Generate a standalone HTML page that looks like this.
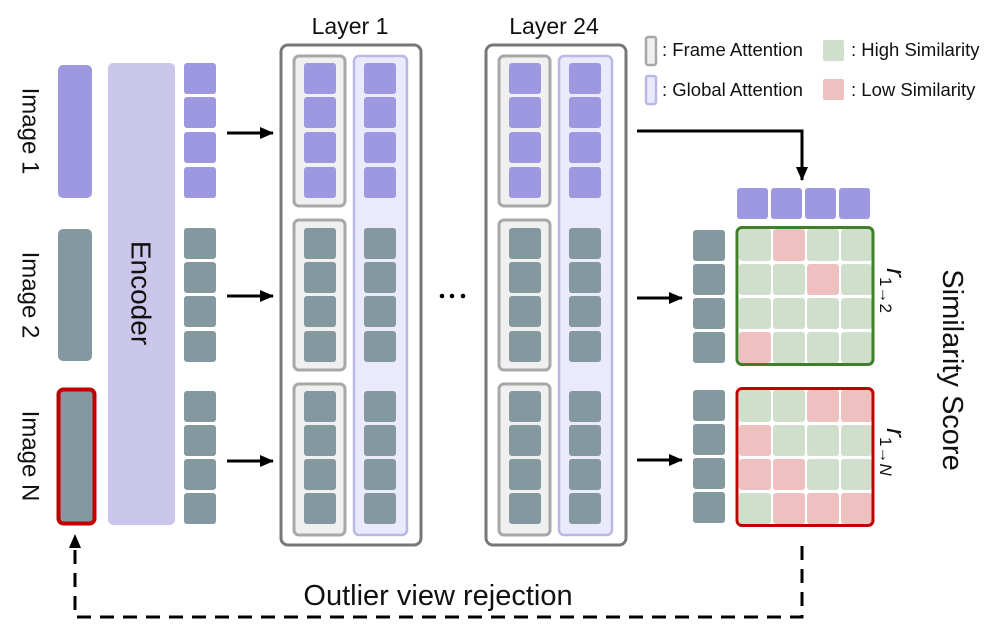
<!DOCTYPE html>
<html><head><meta charset="utf-8"><style>
html,body{margin:0;padding:0;background:#fff;}
svg{display:block;}
text{font-family:"Liberation Sans",sans-serif;fill:#111;}
</style></head><body>
<svg width="997" height="634" viewBox="0 0 997 634" xmlns="http://www.w3.org/2000/svg">
<defs>
<marker id="ah2" markerWidth="14" markerHeight="12" refX="13" refY="6" orient="auto" markerUnits="userSpaceOnUse"><path d="M0,0 L14,6 L0,12 Z" fill="#000"/></marker>
</defs>

<rect x="58" y="65" width="34" height="133" rx="5" fill="#9d98df"/>
<rect x="58" y="229" width="34" height="132" rx="5" fill="#84999f"/>
<rect x="58.5" y="389.5" width="36" height="134" rx="5" fill="#84999f" stroke="#c00000" stroke-width="4"/>
<text transform="translate(30,131) rotate(90)" text-anchor="middle" dominant-baseline="central" font-size="24">Image 1</text>
<text transform="translate(30,295) rotate(90)" text-anchor="middle" dominant-baseline="central" font-size="24">Image 2</text>
<text transform="translate(30,456) rotate(90)" text-anchor="middle" dominant-baseline="central" font-size="24">Image N</text>

<rect x="108" y="63" width="67" height="462" rx="5" fill="#cbc7ea"/>
<text transform="translate(141,293) rotate(90)" text-anchor="middle" dominant-baseline="central" font-size="28">Encoder</text>

<g fill="#9d98df">
<rect x="184" y="63" width="32" height="31" rx="3"/><rect x="184" y="97" width="32" height="31" rx="3"/><rect x="184" y="132" width="32" height="31" rx="3"/><rect x="184" y="167" width="32" height="31" rx="3"/>
</g>
<g fill="#84999f">
<rect x="184" y="228" width="32" height="31" rx="3"/><rect x="184" y="262" width="32" height="31" rx="3"/><rect x="184" y="296" width="32" height="31" rx="3"/><rect x="184" y="331" width="32" height="31" rx="3"/>
<rect x="184" y="391" width="32" height="31" rx="3"/><rect x="184" y="425" width="32" height="31" rx="3"/><rect x="184" y="459" width="32" height="31" rx="3"/><rect x="184" y="493" width="32" height="31" rx="3"/>
</g>

<g stroke="#000" stroke-width="3">
<line x1="227" y1="133" x2="273" y2="133" marker-end="url(#ah2)"/>
<line x1="227" y1="296" x2="273" y2="296" marker-end="url(#ah2)"/>
<line x1="227" y1="461" x2="273" y2="461" marker-end="url(#ah2)"/>
</g>

<text x="350" y="34" text-anchor="middle" font-size="23">Layer 1</text>
<text x="554" y="34" text-anchor="middle" font-size="23">Layer 24</text>

<g>
<rect x="281" y="45" width="140" height="500" rx="7" fill="#fff" stroke="#777" stroke-width="3"/>
<rect x="354" y="56" width="53" height="479" rx="5" fill="#ebeafc" stroke="#bab7e6" stroke-width="2.5"/>
<rect x="294" y="56" width="51" height="150" rx="5" fill="#f0f0f0" stroke="#a8a8a8" stroke-width="3"/>
<rect x="294" y="220" width="51" height="150" rx="5" fill="#f0f0f0" stroke="#a8a8a8" stroke-width="3"/>
<rect x="294" y="384" width="51" height="151" rx="5" fill="#f0f0f0" stroke="#a8a8a8" stroke-width="3"/>
<g fill="#9d98df">
<rect x="304" y="63" width="32" height="31" rx="3"/><rect x="304" y="97" width="32" height="31" rx="3"/><rect x="304" y="132" width="32" height="31" rx="3"/><rect x="304" y="167" width="32" height="31" rx="3"/>
<rect x="364" y="63" width="32" height="31" rx="3"/><rect x="364" y="97" width="32" height="31" rx="3"/><rect x="364" y="132" width="32" height="31" rx="3"/><rect x="364" y="167" width="32" height="31" rx="3"/>
</g>
<g fill="#84999f">
<rect x="304" y="228" width="32" height="31" rx="3"/><rect x="304" y="262" width="32" height="31" rx="3"/><rect x="304" y="296" width="32" height="31" rx="3"/><rect x="304" y="331" width="32" height="31" rx="3"/>
<rect x="304" y="391" width="32" height="31" rx="3"/><rect x="304" y="425" width="32" height="31" rx="3"/><rect x="304" y="459" width="32" height="31" rx="3"/><rect x="304" y="493" width="32" height="31" rx="3"/>
<rect x="364" y="228" width="32" height="31" rx="3"/><rect x="364" y="262" width="32" height="31" rx="3"/><rect x="364" y="296" width="32" height="31" rx="3"/><rect x="364" y="331" width="32" height="31" rx="3"/>
<rect x="364" y="391" width="32" height="31" rx="3"/><rect x="364" y="425" width="32" height="31" rx="3"/><rect x="364" y="459" width="32" height="31" rx="3"/><rect x="364" y="493" width="32" height="31" rx="3"/>
</g>
</g>

<circle cx="442" cy="296" r="2.3" fill="#000"/><circle cx="452" cy="296" r="2.3" fill="#000"/><circle cx="463" cy="296" r="2.3" fill="#000"/>

<g transform="translate(205,0)">
<rect x="281" y="45" width="140" height="500" rx="7" fill="#fff" stroke="#777" stroke-width="3"/>
<rect x="354" y="56" width="53" height="479" rx="5" fill="#ebeafc" stroke="#bab7e6" stroke-width="2.5"/>
<rect x="294" y="56" width="51" height="150" rx="5" fill="#f0f0f0" stroke="#a8a8a8" stroke-width="3"/>
<rect x="294" y="220" width="51" height="150" rx="5" fill="#f0f0f0" stroke="#a8a8a8" stroke-width="3"/>
<rect x="294" y="384" width="51" height="151" rx="5" fill="#f0f0f0" stroke="#a8a8a8" stroke-width="3"/>
<g fill="#9d98df">
<rect x="304" y="63" width="32" height="31" rx="3"/><rect x="304" y="97" width="32" height="31" rx="3"/><rect x="304" y="132" width="32" height="31" rx="3"/><rect x="304" y="167" width="32" height="31" rx="3"/>
<rect x="364" y="63" width="32" height="31" rx="3"/><rect x="364" y="97" width="32" height="31" rx="3"/><rect x="364" y="132" width="32" height="31" rx="3"/><rect x="364" y="167" width="32" height="31" rx="3"/>
</g>
<g fill="#84999f">
<rect x="304" y="228" width="32" height="31" rx="3"/><rect x="304" y="262" width="32" height="31" rx="3"/><rect x="304" y="296" width="32" height="31" rx="3"/><rect x="304" y="331" width="32" height="31" rx="3"/>
<rect x="304" y="391" width="32" height="31" rx="3"/><rect x="304" y="425" width="32" height="31" rx="3"/><rect x="304" y="459" width="32" height="31" rx="3"/><rect x="304" y="493" width="32" height="31" rx="3"/>
<rect x="364" y="228" width="32" height="31" rx="3"/><rect x="364" y="262" width="32" height="31" rx="3"/><rect x="364" y="296" width="32" height="31" rx="3"/><rect x="364" y="331" width="32" height="31" rx="3"/>
<rect x="364" y="391" width="32" height="31" rx="3"/><rect x="364" y="425" width="32" height="31" rx="3"/><rect x="364" y="459" width="32" height="31" rx="3"/><rect x="364" y="493" width="32" height="31" rx="3"/>
</g>
</g>

<rect x="646" y="37" width="10" height="28" rx="2" fill="#f0f0f0" stroke="#a8a8a8" stroke-width="2.5"/>
<text x="662" y="56" font-size="18.5">: Frame Attention</text>
<rect x="646" y="76" width="10" height="28" rx="2" fill="#ebeafc" stroke="#bab7e6" stroke-width="2.5"/>
<text x="662" y="96" font-size="18.5">: Global Attention</text>
<rect x="823" y="40" width="21" height="21" rx="2" fill="#d0dfcb"/>
<text x="851" y="56" font-size="18.5">: High Similarity</text>
<rect x="823" y="79" width="21" height="21" rx="2" fill="#efc0c0"/>
<text x="851" y="96" font-size="18.5">: Low Similarity</text>

<polyline points="637,131 802,131 802,180" fill="none" stroke="#000" stroke-width="3" marker-end="url(#ah2)"/>

<g fill="#9d98df">
<rect x="737" y="188" width="31" height="31" rx="3"/><rect x="771" y="188" width="31" height="31" rx="3"/><rect x="805" y="188" width="31" height="31" rx="3"/><rect x="839" y="188" width="31" height="31" rx="3"/>
</g>

<g stroke="#000" stroke-width="3">
<line x1="637" y1="298" x2="682" y2="298" marker-end="url(#ah2)"/>
<line x1="637" y1="460" x2="682" y2="460" marker-end="url(#ah2)"/>
</g>

<g fill="#84999f">
<rect x="693" y="230" width="32" height="31" rx="3"/><rect x="693" y="264" width="32" height="31" rx="3"/><rect x="693" y="298" width="32" height="31" rx="3"/><rect x="693" y="332" width="32" height="31" rx="3"/>
<rect x="693" y="390" width="32" height="31" rx="3"/><rect x="693" y="424" width="32" height="31" rx="3"/><rect x="693" y="458" width="32" height="31" rx="3"/><rect x="693" y="492" width="32" height="31" rx="3"/>
</g>

<g>
<rect x="738" y="228" width="134" height="136" rx="3" fill="#fff"/>
<g fill="#d0dfcb">
<rect x="739" y="229" width="32" height="32" rx="3"/><rect x="807" y="229" width="32" height="32" rx="3"/><rect x="841" y="229" width="31" height="32" rx="3"/>
<rect x="739" y="264" width="32" height="31" rx="3"/><rect x="773" y="264" width="32" height="31" rx="3"/><rect x="841" y="264" width="31" height="31" rx="3"/>
<rect x="739" y="298" width="32" height="31" rx="3"/><rect x="773" y="298" width="32" height="31" rx="3"/><rect x="807" y="298" width="32" height="31" rx="3"/><rect x="841" y="298" width="31" height="31" rx="3"/>
<rect x="773" y="332" width="32" height="31" rx="3"/><rect x="807" y="332" width="32" height="31" rx="3"/><rect x="841" y="332" width="31" height="31" rx="3"/>
</g>
<g fill="#efc0c0">
<rect x="773" y="229" width="32" height="32" rx="3"/>
<rect x="807" y="264" width="32" height="31" rx="3"/>
<rect x="739" y="332" width="32" height="31" rx="3"/>
</g>
<rect x="737" y="227.5" width="136" height="137" rx="5" fill="none" stroke="#3f7f27" stroke-width="3"/>
</g>

<g>
<rect x="738" y="389" width="134" height="136" rx="3" fill="#fff"/>
<g fill="#d0dfcb">
<rect x="739" y="390" width="32" height="32" rx="3"/><rect x="773" y="390" width="32" height="32" rx="3"/>
<rect x="773" y="425" width="32" height="31" rx="3"/><rect x="807" y="425" width="32" height="31" rx="3"/><rect x="841" y="425" width="31" height="31" rx="3"/>
<rect x="807" y="459" width="32" height="31" rx="3"/><rect x="841" y="459" width="31" height="31" rx="3"/>
<rect x="739" y="493" width="32" height="31" rx="3"/>
</g>
<g fill="#efc0c0">
<rect x="807" y="390" width="32" height="32" rx="3"/><rect x="841" y="390" width="31" height="32" rx="3"/>
<rect x="739" y="425" width="32" height="31" rx="3"/>
<rect x="739" y="459" width="32" height="31" rx="3"/><rect x="773" y="459" width="32" height="31" rx="3"/>
<rect x="773" y="493" width="32" height="31" rx="3"/><rect x="807" y="493" width="32" height="31" rx="3"/><rect x="841" y="493" width="31" height="31" rx="3"/>
</g>
<rect x="737" y="388.5" width="136" height="137" rx="5" fill="none" stroke="#c00000" stroke-width="3"/>
</g>

<text transform="translate(887,268) rotate(90)" font-size="27" font-family="Liberation Serif,serif" font-style="italic">r<tspan font-size="17" font-style="normal" dy="7" font-family="Liberation Sans,sans-serif">1→2</tspan></text>
<text transform="translate(887,428) rotate(90)" font-size="27" font-family="Liberation Serif,serif" font-style="italic">r<tspan font-size="17" font-style="normal" dy="7" font-family="Liberation Sans,sans-serif">1→</tspan><tspan font-size="17">N</tspan></text>

<text transform="translate(952,370) rotate(90)" text-anchor="middle" dominant-baseline="central" font-size="29">Similarity Score</text>

<polyline points="802,546 802,617 75,617 75,548" fill="none" stroke="#000" stroke-width="3" stroke-dasharray="14,9"/>
<path d="M69,548 L75,534 L81,548 Z" fill="#000"/>
<text x="438" y="605" text-anchor="middle" font-size="29">Outlier view rejection</text>
</svg>
</body></html>
